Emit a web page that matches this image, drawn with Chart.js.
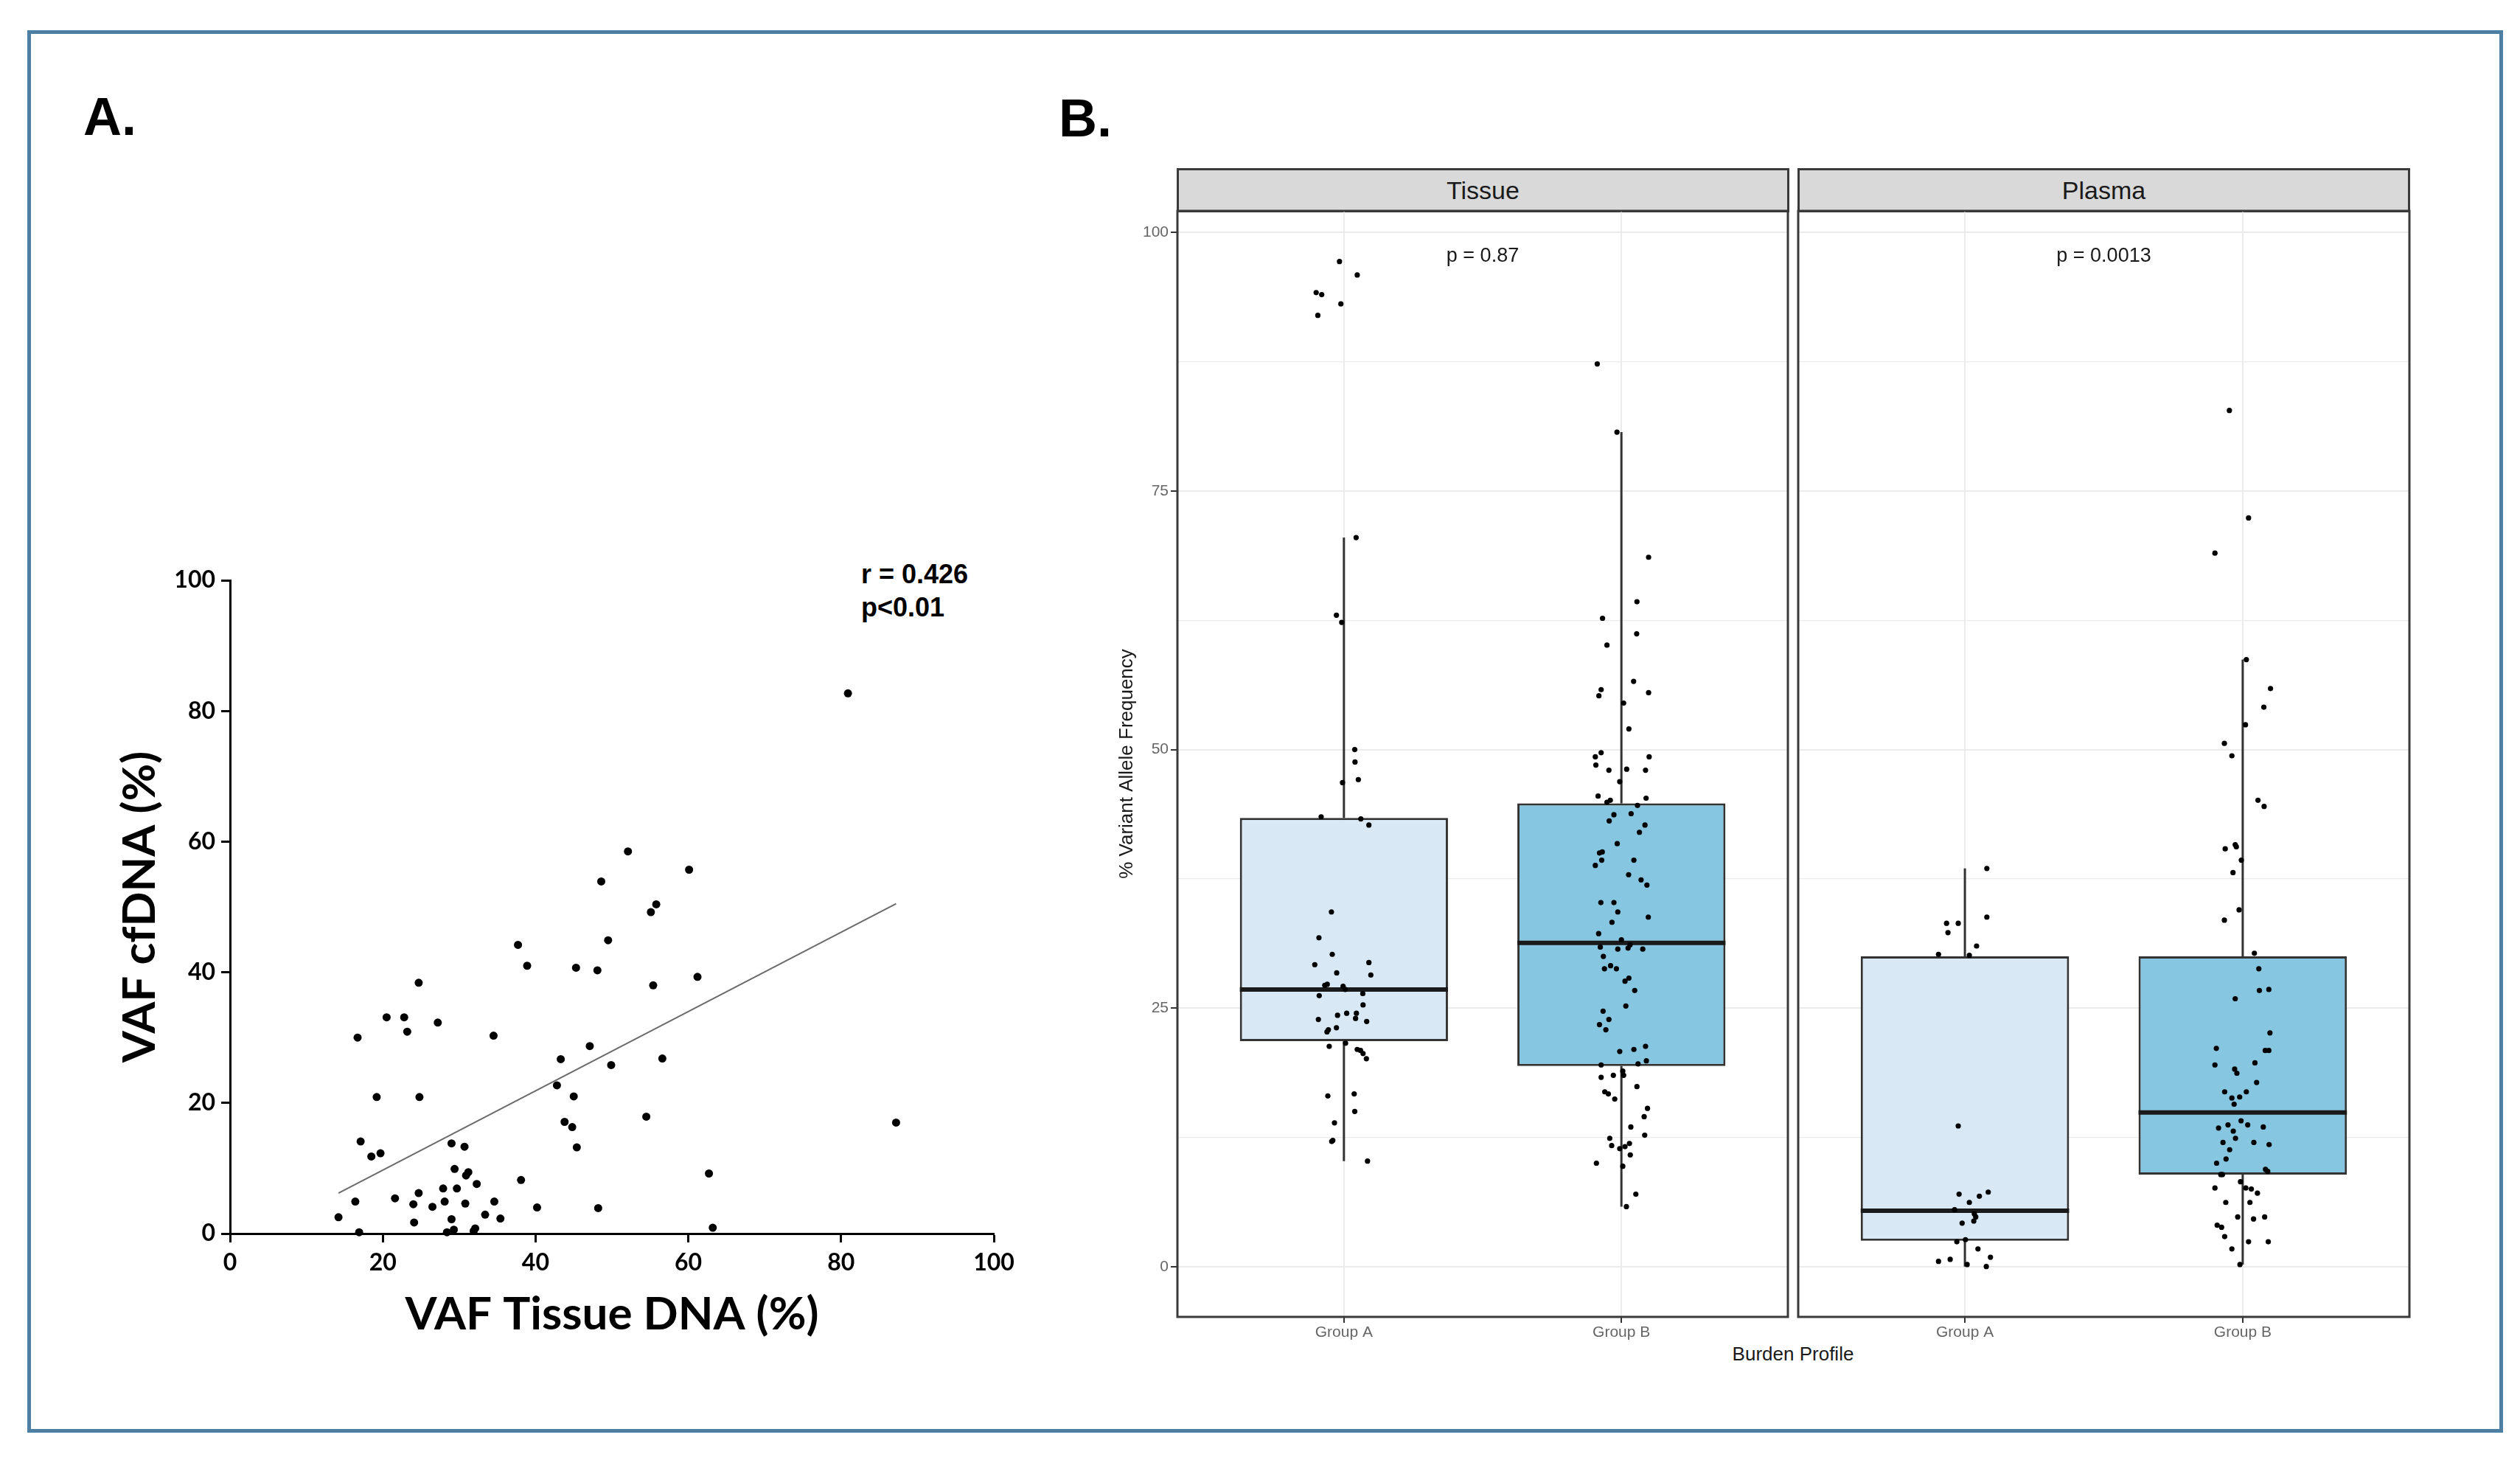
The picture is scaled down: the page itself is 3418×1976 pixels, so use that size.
<!DOCTYPE html>
<html>
<head>
<meta charset="utf-8">
<script src="https://cdn.jsdelivr.net/npm/chart.js@4.4.1/dist/chart.umd.min.js"></script>
<style>
  body { margin: 0; background: #fff; width: 3418px; height: 1976px; position: relative; overflow: hidden;
         font-family: 'Liberation Sans', Arial, sans-serif; }
  .abs { position: absolute; }
  #frame { left: 37px; top: 41px; width: 3358px; height: 1902px; border: 5px solid #4d7fa3; box-sizing: border-box; }
  .panelTag { font-weight: bold; font-size: 72px; line-height: 72px; color: #000; }
  .strip { background: #d9d9d9; border: 3px solid #3a3a3a; box-sizing: border-box; height: 60px; width: 831px;
           text-align: center; font-size: 34px; line-height: 54px; color: #1a1a1a; }
  canvas { position: absolute; }
</style>
</head>
<body>
<div id="frame" class="abs"></div>
<div class="abs panelTag" style="left:113px; top:122px;">A.</div>
<div class="abs panelTag" style="left:1436px; top:124px;">B.</div>

<div class="abs" style="left:1168px; top:756px; font-weight:bold; font-size:36px; line-height:45px;">r = 0.426<br>p&lt;0.01</div>

<div class="abs strip" style="left:1596px; top:228px;">Tissue</div>
<div class="abs strip" style="left:2438px; top:228px;">Plasma</div>
<div class="abs" style="left:2232px; top:1821px; width:400px; text-align:center; font-size:26px; line-height:30px; color:#1a1a1a;">Burden Profile</div>

<canvas id="chartA" width="1400" height="1150" style="left:0px; top:700px; width:1400px; height:1150px;"></canvas>
<canvas id="chartTissue" width="930" height="1560" style="left:1500px; top:282px; width:930px; height:1560px;"></canvas>
<canvas id="chartPlasma" width="839" height="1560" style="left:2434px; top:282px; width:839px; height:1560px;"></canvas>

<script>
// ---------- Panel A: VAF tissue vs cfDNA ----------
const tissueVaf = [14.2, 16.4, 16.9, 16.7, 17.1, 18.5, 19.2, 19.7, 20.5, 21.6, 22.8, 23.2, 24.0, 24.1, 24.7, 24.7, 24.8,
  26.5, 27.2, 27.9, 28.1, 28.4, 29.0, 29.0, 29.3, 29.4, 29.7, 30.7, 30.8, 30.9, 31.2, 31.9, 32.1, 32.3, 33.4, 34.5,
  34.6, 35.4, 37.7, 38.1, 38.9, 40.2, 42.8, 43.3, 43.8, 44.8, 45.0, 45.3, 45.4, 47.1, 48.1, 48.2, 48.6, 49.5, 49.9,
  52.1, 54.5, 55.1, 55.4, 55.8, 56.6, 60.1, 61.2, 62.7, 63.2, 80.9, 87.2];
const cfdnaVaf = [2.5, 4.9, 0.2, 30.0, 14.1, 11.8, 20.9, 12.3, 33.1, 5.4, 33.1, 30.9, 4.5, 1.7, 38.4, 6.2, 20.9,
  4.1, 32.3, 6.9, 4.9, 0.2, 13.8, 2.2, 0.6, 9.9, 6.9, 13.3, 4.6, 8.9, 9.4, 0.4, 0.8, 7.6, 2.9, 30.3,
  4.9, 2.3, 44.2, 8.2, 41.0, 4.0, 22.7, 26.7, 17.1, 16.3, 21.0, 40.7, 13.2, 28.7, 40.3, 3.9, 53.9, 44.9, 25.8,
  58.5, 17.9, 49.2, 38.0, 50.4, 26.8, 55.7, 39.3, 9.2, 0.9, 82.7, 17.0];
// ends of the drawn regression line
const fitX = [14.2, 87.2];
const fitY = [6.2, 50.5];

// ---------- Panel B: boxplots by burden profile ----------
const groups = ['Group A', 'Group B'];
const groupPos = [1, 2];
const pLabels = ['p = 0.87', 'p = 0.0013'];

const tissueQ1 = [21.8, 19.4];
const tissueMed = [26.8, 31.3];
const tissueQ3 = [43.4, 44.8];
const tissueLo = [10.2, 5.8];
const tissueHi = [70.5, 80.7];

const plasmaQ1 = [2.5, 8.9];
const plasmaMed = [5.4, 14.9];
const plasmaQ3 = [30.0, 30.0];
const plasmaLo = [0.0, 0.2];
const plasmaHi = [38.5, 58.7];

// jittered points: value and horizontal jitter (in group units)
const tissueAVals = [97.2, 95.9, 94.2, 94.0, 93.1, 92.0, 70.5, 63.0, 62.3, 50.0, 48.8, 46.8, 47.1, 43.5, 43.3, 42.7,
  34.3, 31.8, 30.2, 29.2, 29.4, 28.4, 28.2, 27.2, 27.3, 27.1, 26.8, 26.2, 26.4, 25.3, 24.5, 24.3, 24.5, 23.9, 24.0,
  23.7, 23.1, 22.9, 22.7, 21.3, 21.6, 21.0, 20.9, 20.6, 20.1, 16.5, 16.7, 15.0, 13.9, 12.2, 12.1, 10.2];
const tissueAJit = [-0.016, 0.048, -0.10, -0.08, -0.011, -0.094, 0.044, -0.027, -0.008, 0.039, 0.04, -0.005, 0.052,
  -0.082, 0.061, 0.09, -0.045, -0.09, -0.042, -0.105, 0.09, -0.026, 0.097, -0.069, -0.06, -0.003, 0.005, -0.089,
  0.068, 0.069, 0.01, -0.023, 0.045, -0.092, 0.042, 0.082, -0.027, -0.056, -0.061, -0.053, 0.006, 0.048, 0.06,
  0.069, 0.081, -0.058, 0.037, 0.039, -0.034, -0.04, -0.044, 0.085];

const tissueBVals = [87.3, 80.7, 68.6, 64.3, 62.7, 61.2, 60.1, 56.6, 55.8, 55.2, 55.5, 54.5, 52.0,
  49.7, 49.3, 49.3, 48.5, 48.0, 48.1, 48.0, 46.9, 45.5, 45.1, 44.9, 45.3, 44.6, 43.7, 43.8, 43.1, 42.7, 42.0, 40.9,
  40.0, 40.1, 39.3, 39.3, 38.8, 37.9, 37.4, 36.9, 35.2, 35.2, 34.3, 33.8, 33.3, 32.2, 31.6, 30.9, 30.7, 30.8, 31.1,
  30.7, 30.0, 29.1, 28.8, 28.8, 27.9, 27.6, 26.7, 25.2, 24.7, 23.9, 23.4, 22.9, 20.8, 21.0, 21.3, 19.9, 19.6, 19.5,
  18.9, 18.5, 18.5, 18.3, 17.4, 16.9, 16.7, 16.2, 15.3, 14.5, 13.5, 12.7, 12.4, 11.7, 11.6, 11.4, 11.9, 10.8, 10.0,
  9.7, 7.0, 5.8];
const tissueBJit = [-0.087, -0.016, 0.098, 0.056, -0.068, 0.055, -0.052, 0.044, -0.073, -0.081, 0.098, 0.008, 0.027,
  -0.073, -0.094, 0.1, -0.092, -0.045, 0.019, 0.087, -0.006, -0.084, -0.04, -0.052, 0.089, 0.058, -0.027, 0.035,
  -0.044, 0.085, 0.065, -0.015, -0.079, -0.069, -0.071, 0.045, -0.094, 0.026, 0.071, 0.092, -0.074, -0.027, -0.013,
  0.097, -0.034, -0.082, 0, -0.076, -0.013, 0.024, 0.031, 0.077, -0.065, -0.039, -0.061, -0.018, 0.027, 0.013,
  0.048, 0.016, -0.066, -0.045, -0.079, -0.056, -0.006, 0.045, 0.087, 0.09, 0.06, -0.073, 0.005, 0.008, -0.029,
  -0.073, 0.056, -0.06, -0.047, -0.024, 0.094, 0.082, 0.034, 0.084, -0.042, -0.035, 0.013, -0.006, 0.029, 0.032,
  -0.09, 0.005, 0.052, 0.018];

const plasmaAVals = [38.5, 33.8, 33.2, 33.2, 32.3, 31.0, 30.2, 30.1, 13.6, 7.0, 6.8, 7.2, 6.2, 5.5, 5.1, 4.8, 4.4,
  4.2, 2.4, 2.6, 1.7, 0.9, 0.5, 0.7, 0.2, 0.0];
const plasmaAJit = [0.079, 0.079, -0.066, -0.024, -0.061, 0.042, -0.095, 0.016, -0.024, -0.021, 0.052, 0.084, 0.016,
  -0.037, 0.034, 0.039, 0.032, -0.01, -0.029, 0.002, 0.047, 0.092, -0.095, -0.053, 0.008, 0.077];

const plasmaBVals = [82.8, 72.4, 69.0, 58.7, 55.9, 54.1, 52.4, 50.6, 49.4, 45.1, 44.5,
  40.4, 40.8, 40.6, 39.3, 38.1, 34.5, 33.5, 30.3, 28.8, 26.7, 26.8, 25.9, 22.6, 21.1, 20.9, 20.9, 19.5, 19.7, 19.1,
  18.7, 17.8, 16.9, 16.9, 16.4, 16.3, 15.7, 14.1, 13.7, 13.4, 13.7, 13.5, 13.1, 12.4, 12.0, 12.0, 11.8, 11.3, 10.4,
  10.0, 9.4, 9.2, 8.9, 8.9, 8.2, 7.6, 7.5, 7.1, 7.6, 6.2, 6.2, 4.8, 4.6, 4.8, 4.0, 3.8, 2.9, 2.4, 2.4, 1.7, 0.2];
const plasmaBJit = [-0.048, 0.021, -0.1, 0.013, 0.1, 0.076, 0.01, -0.066, -0.039, 0.055, 0.077,
  -0.063, -0.027, -0.023, -0.005, -0.035, -0.013, -0.066, 0.042, 0.058, 0.06, 0.094, -0.027, 0.098, -0.095, 0.081,
  0.094, -0.1, 0.044, -0.029, -0.021, 0.05, -0.065, 0.013, -0.011, -0.039, -0.031, -0.006, 0.018, -0.087, -0.053,
  0.074, -0.034, -0.026, -0.071, 0.04, 0.095, -0.047, -0.06, -0.094, 0.082, 0.09, -0.073, -0.079, -0.008, 0.011,
  0.031, 0.053, -0.1, -0.061, 0.026, -0.018, 0.039, 0.079, -0.092, -0.076, -0.065, 0.021, 0.092, -0.039, -0.01];

const FONT = "'Liberation Sans', Arial, sans-serif";
const FONT_A = "Lato, 'Liberation Sans', sans-serif";
const BOX_W = 0.75;
const boxFill = ['#d8e9f5', '#87c6e0'];

// ---------- Panel A chart ----------
function axisA(titleText, titlePad, fit) {
  return {
    type: 'linear', min: 0, max: 100,
    afterFit: fit,
    ticks: { stepSize: 20, color: '#000', font: { size: 32, weight: 'bold', family: FONT_A }, padding: 8 },
    grid: { drawOnChartArea: false, drawTicks: true, tickLength: 12, tickWidth: 3, tickColor: '#000' },
    border: { color: '#000', width: 3 },
    title: { display: true, text: titleText, color: '#000', font: { size: 62, weight: 'bold', family: FONT_A }, padding: titlePad }
  };
}

new Chart(document.getElementById('chartA'), {
  type: 'scatter',
  data: {
    datasets: [
      {
        type: 'line',
        data: fitX.map((x, i) => ({ x: x, y: fitY[i] })),
        borderColor: '#6a6a6a', borderWidth: 2, pointRadius: 0, order: 2
      },
      {
        data: tissueVaf.map((x, i) => ({ x: x, y: cfdnaVaf[i] })),
        pointRadius: 5.5, pointBackgroundColor: '#000', pointBorderWidth: 0, clip: false, order: 1
      }
    ]
  },
  options: {
    responsive: false, animation: false, devicePixelRatio: 1,
    layout: { padding: { top: 87, right: 52, left: 0, bottom: 0 } },
    plugins: { legend: { display: false }, tooltip: { enabled: false } },
    scales: {
      x: axisA('VAF Tissue DNA (%)', { top: 0, bottom: 30 }, s => { s.height = 177; }),
      y: axisA('VAF cfDNA (%)', { top: 153, bottom: 0 }, s => { s.width = 312; })
    }
  }
});

// ---------- Panel B facets ----------
// panel border and comparison label, placed through the chart's scales
const facetDecor = {
  id: 'facetDecor',
  afterDatasetsDraw(chart, args, opts) {
    const { ctx, chartArea: a, scales } = chart;
    ctx.save();
    ctx.font = '27px ' + FONT;
    ctx.fillStyle = '#1a1a1a';
    ctx.textAlign = 'center';
    ctx.textBaseline = 'middle';
    ctx.fillText(opts.label, scales.x.getPixelForValue((groupPos[0] + groupPos[1]) / 2), scales.y.getPixelForValue(opts.labelY));
    ctx.strokeStyle = '#3a3a3a';
    ctx.lineWidth = 3;
    ctx.strokeRect(a.left, a.top, a.right - a.left, a.bottom - a.top);
    ctx.restore();
  }
};

function facetChart(id, f) {
  const pts = [];
  f.vals.forEach((vals, g) => vals.forEach((v, i) => pts.push({ x: groupPos[g] + f.jit[g][i], y: v })));

  const boxes = groupPos.map((x, g) => ({ x: x, y: [f.q1[g], f.q3[g]] }));

  const whiskers = [];
  groupPos.forEach((x, g) => {
    whiskers.push({ x: x, y: f.hi[g] }, { x: x, y: f.q3[g] }, { x: x, y: null },
                  { x: x, y: f.q1[g] }, { x: x, y: f.lo[g] }, { x: x, y: null });
  });

  const medians = [];
  groupPos.forEach((x, g) => {
    medians.push({ x: x - BOX_W / 2, y: f.med[g] }, { x: x + BOX_W / 2, y: f.med[g] }, { x: x, y: null });
  });

  const tickFont = { size: 21, family: FONT };
  const major = c => c.tick && c.tick.value % 25 === 0;

  return new Chart(document.getElementById(id), {
    type: 'scatter',
    data: {
      datasets: [
        { type: 'line', data: whiskers, borderColor: '#333', borderWidth: 3, pointRadius: 0, spanGaps: false, order: 4 },
        {
          type: 'bar', data: boxes, backgroundColor: boxFill, borderColor: '#333', borderWidth: 3,
          borderSkipped: false, barPercentage: BOX_W, categoryPercentage: 1, order: 3
        },
        { type: 'line', data: medians, borderColor: '#1a1a1a', borderWidth: 6, pointRadius: 0, spanGaps: false, order: 2 },
        { data: pts, pointRadius: 3.6, pointBackgroundColor: '#000', pointBorderWidth: 0, order: 1 }
      ]
    },
    options: {
      responsive: false, animation: false, devicePixelRatio: 1,
      layout: { padding: { top: 4, right: 5, left: f.showY ? 0 : 5, bottom: 0 } },
      plugins: {
        legend: { display: false }, tooltip: { enabled: false },
        facetDecor: { label: f.label, labelY: 97.7 }
      },
      scales: {
        x: {
          type: 'linear', min: 0.4, max: 2.6, offset: false,
          afterBuildTicks: s => { s.ticks = groupPos.map(v => ({ value: v })); },
          afterFit: s => { s.height = 56; s.paddingLeft = 0; s.paddingRight = 0; },
          ticks: { callback: v => groups[groupPos.indexOf(v)], color: '#666', font: tickFont, padding: 1,
                   maxRotation: 0, autoSkip: false },
          grid: { offset: false, color: '#ebebeb', lineWidth: 2, drawTicks: true, tickLength: 8, tickColor: '#333', tickWidth: 2 },
          border: { display: false }
        },
        y: {
          type: 'linear', min: -4.87, max: 102.1,
          afterFit: s => { s.width = f.showY ? 97 : 0; s.paddingTop = 0; s.paddingBottom = 0; },
          ticks: { display: f.showY, stepSize: 12.5, includeBounds: false,
                   callback: v => (v % 25 === 0 ? v : ''), color: '#666', font: tickFont, padding: 3 },
          grid: {
            offset: false,
            color: '#ebebeb', lineWidth: c => (major(c) ? 2 : 1.2),
            drawTicks: f.showY, tickLength: 9, tickWidth: 2,
            tickColor: c => (major(c) ? '#333' : 'rgba(0,0,0,0)')
          },
          border: { display: false },
          title: { display: f.showY, text: '% Variant Allele Frequency', color: '#1a1a1a',
                   font: { size: 26, family: FONT }, padding: { top: 13, bottom: 0 } }
        }
      }
    },
    plugins: [facetDecor]
  });
}

facetChart('chartTissue', {
  showY: true, label: pLabels[0],
  q1: tissueQ1, med: tissueMed, q3: tissueQ3, lo: tissueLo, hi: tissueHi,
  vals: [tissueAVals, tissueBVals], jit: [tissueAJit, tissueBJit]
});

facetChart('chartPlasma', {
  showY: false, label: pLabels[1],
  q1: plasmaQ1, med: plasmaMed, q3: plasmaQ3, lo: plasmaLo, hi: plasmaHi,
  vals: [plasmaAVals, plasmaBVals], jit: [plasmaAJit, plasmaBJit]
});
</script>
</body>
</html>
